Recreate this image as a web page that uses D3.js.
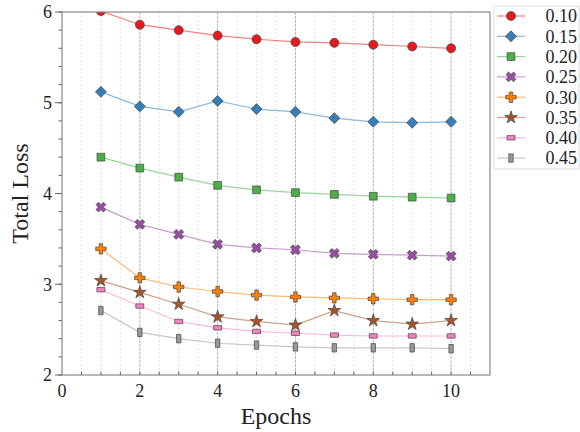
<!DOCTYPE html>
<html>
<head>
<meta charset="utf-8">
<script src="https://cdn.jsdelivr.net/npm/d3@7"></script>
<style>
  body { margin: 0; background: #fff; }
  svg text { font-family: "Liberation Serif", "Times New Roman", serif; fill: #222; }
</style>
</head>
<body>
<div id="chart"></div>
<script>
// data
var epochs = [1, 2, 3, 4, 5, 6, 7, 8, 9, 10]
var seriesNames = ["0.10", "0.15", "0.20", "0.25", "0.30", "0.35", "0.40", "0.45"]
var loss010 = [6.01, 5.86, 5.80, 5.74, 5.70, 5.67, 5.66, 5.64, 5.62, 5.60]
var loss015 = [5.12, 4.96, 4.90, 5.02, 4.93, 4.90, 4.83, 4.79, 4.78, 4.79]
var loss020 = [4.40, 4.28, 4.18, 4.09, 4.04, 4.01, 3.99, 3.97, 3.96, 3.95]
var loss025 = [3.85, 3.66, 3.55, 3.44, 3.40, 3.38, 3.34, 3.33, 3.32, 3.31]
var loss030 = [3.39, 3.07, 2.97, 2.92, 2.88, 2.86, 2.85, 2.84, 2.83, 2.83]
var loss035 = [3.04, 2.91, 2.78, 2.64, 2.59, 2.55, 2.71, 2.60, 2.56, 2.60]
var loss040 = [2.94, 2.76, 2.59, 2.52, 2.48, 2.46, 2.44, 2.43, 2.43, 2.43]
var loss045 = [2.71, 2.47, 2.40, 2.35, 2.33, 2.31, 2.30, 2.30, 2.30, 2.29]
var xTicks = [0, 2, 4, 6, 8, 10]
var yTicks = [2, 3, 4, 5, 6]

var allLoss = [loss010, loss015, loss020, loss025, loss030, loss035, loss040, loss045]
var colors = ["#e41a1c", "#377eb8", "#4daf4a", "#984ea3", "#ff7f00", "#a65628", "#f781bf", "#999999"]
var shapes = ["circle", "diamond", "square", "x", "plus", "star", "hrect", "vrect"]

var W = 580, H = 432
var margin = {left: 62, right: 90, top: 12, bottom: 57}
var width = W - margin.left - margin.right
var height = H - margin.top - margin.bottom

var svg = d3.select('#chart').append('svg').attr('width', W).attr('height', H)
var g = svg.append('g').attr('transform', 'translate(' + margin.left + ',' + margin.top + ')')

var x = d3.scaleLinear().domain([0, 11]).range([0, width])
var y = d3.scaleLinear().domain([2, 6]).range([height, 0])

// vertical grid, every half epoch
var gridVals = d3.range(0.5, 11, 0.5)
g.selectAll('line.grid').data(gridVals).enter().append('line')
  .attr('class', 'grid')
  .attr('x1', d => x(d)).attr('x2', d => x(d))
  .attr('y1', 0).attr('y2', height)
  .attr('stroke', d => d % 2 == 0 ? '#b8b8b8' : '#e2e2e2')
  .attr('stroke-width', 1)
  .attr('stroke-dasharray', d => d % 2 == 0 ? '3,1' : '2,2')

function symbolPath(shape) {
  switch (shape) {
    case 'circle': return d3.symbol(d3.symbolCircle, 64)()
    case 'diamond': return 'M0,-5.5L5.5,0L0,5.5L-5.5,0Z'
    case 'square': return d3.symbol(d3.symbolSquare, 60)()
    case 'x': return d3.symbol(d3.symbolCross, 60)()
    case 'plus': return d3.symbol(d3.symbolCross, 60)()
    case 'star': return d3.symbol(d3.symbolStar, 50)()
    case 'hrect': return 'M-4,-2.2H4V2.2H-4Z'
    case 'vrect': return 'M-2.2,-4.2H2.2V4.2H-2.2Z'
  }
}

svg.append('clipPath').attr('id', 'clip').append('rect').attr('width', width).attr('height', height)

var line = d3.line().x(d => x(d.e)).y(d => y(d.v))
var plot = g.append('g').attr('clip-path', 'url(#clip)')

allLoss.forEach(function(vals, i){
  var pts = epochs.map(function(e, j){ return {e: e, v: vals[j]} })
  plot.append('path').datum(pts)
    .attr('d', line)
    .attr('fill', 'none')
    .attr('stroke', colors[i])
    .attr('stroke-opacity', 0.55)
    .attr('stroke-width', 1.2)
  plot.selectAll('path.m' + i).data(pts).enter().append('path')
    .attr('class', 'm' + i)
    .attr('d', symbolPath(shapes[i]))
    .attr('transform', d => 'translate(' + x(d.e) + ',' + y(d.v) + ')' + (shapes[i] == 'x' ? ' rotate(45)' : ''))
    .attr('fill', colors[i])
    .attr('stroke', '#444')
    .attr('stroke-width', 0.7)
})

// frame
g.append('rect').attr('width', width).attr('height', height)
  .attr('fill', 'none').attr('stroke', '#888').attr('stroke-width', 1.2)

// x axis: inward ticks every half epoch
g.selectAll('line.xt').data(d3.range(0.5, 11, 0.5)).enter().append('line')
  .attr('x1', d => x(d)).attr('x2', d => x(d))
  .attr('y1', height).attr('y2', height - 3.5)
  .attr('stroke', '#666')
g.selectAll('text.xl').data(xTicks).enter().append('text')
  .attr('x', d => x(d)).attr('y', height + 22)
  .attr('text-anchor', 'middle').attr('font-size', 18)
  .text(d => d)

// y axis: outward ticks, minor every 0.2
g.selectAll('line.ym').data(d3.range(2, 6.01, 0.2)).enter().append('line')
  .attr('x1', 0).attr('x2', -3.5)
  .attr('y1', d => y(d)).attr('y2', d => y(d))
  .attr('stroke', '#666')
g.selectAll('line.yt').data(yTicks).enter().append('line')
  .attr('x1', 0).attr('x2', -7)
  .attr('y1', d => y(d)).attr('y2', d => y(d))
  .attr('stroke', '#666')
g.selectAll('text.yl').data(yTicks).enter().append('text')
  .attr('x', -10).attr('y', d => y(d)).attr('dy', '0.35em')
  .attr('text-anchor', 'end').attr('font-size', 18)
  .text(d => d)

// axis titles
svg.append('text')
  .attr('x', margin.left + x(5.5)).attr('y', 424)
  .attr('text-anchor', 'middle').attr('font-size', 24)
  .text('Epochs')
svg.append('text')
  .attr('transform', 'translate(28,' + (margin.top + height / 2) + ') rotate(-90)')
  .attr('text-anchor', 'middle').attr('font-size', 24)
  .text('Total Loss')

// legend
var leg = svg.append('g')
leg.append('rect')
  .attr('x', 494).attr('y', 6).attr('width', 85).attr('height', 163)
  .attr('fill', '#fff').attr('stroke', '#ddd').attr('stroke-width', 1)
seriesNames.forEach(function(name, i){
  var ly = 16 + i * 20.3
  leg.append('line')
    .attr('x1', 497).attr('x2', 525).attr('y1', ly).attr('y2', ly)
    .attr('stroke', colors[i]).attr('stroke-opacity', 0.55).attr('stroke-width', 1.2)
  leg.append('path')
    .attr('d', symbolPath(shapes[i]))
    .attr('transform', 'translate(511,' + ly + ')' + (shapes[i] == 'x' ? ' rotate(45)' : ''))
    .attr('fill', colors[i]).attr('stroke', '#444').attr('stroke-width', 0.7)
  leg.append('text')
    .attr('x', 577).attr('y', ly).attr('dy', '0.35em')
    .attr('text-anchor', 'end').attr('font-size', 18)
    .text(name)
})
</script>
</body>
</html>
